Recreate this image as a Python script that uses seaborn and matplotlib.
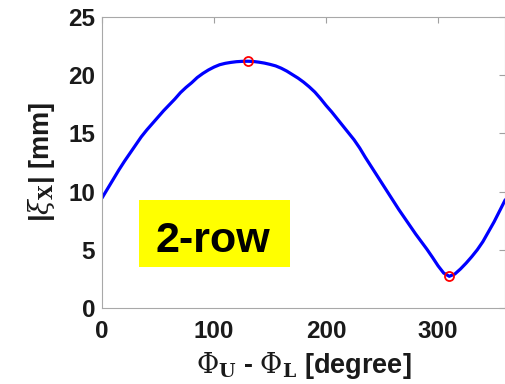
import numpy as np
import pandas as pd
import matplotlib
matplotlib.use("Agg")
import matplotlib.pyplot as plt
from matplotlib.patches import Rectangle
import seaborn as sns

phase_deg = list(range(0, 361, 5))
xi_mm = [9.45, 10.25, 11.05, 11.85, 12.6, 13.3, 14.0, 14.7, 15.3, 15.85,
         16.4, 16.95, 17.45, 17.95, 18.5, 18.95, 19.35, 19.8, 20.15, 20.45,
         20.7, 20.9, 21.02, 21.1, 21.16, 21.19, 21.2, 21.18, 21.12, 21.04,
         20.93, 20.8, 20.6, 20.35, 20.05, 19.75, 19.4, 19.0, 18.55, 18.0,
         17.4, 16.85, 16.25, 15.65, 15.05, 14.45, 13.75, 12.95, 12.2, 11.45,
         10.7, 9.95, 9.2, 8.45, 7.75, 7.05, 6.35, 5.7, 5.05, 4.35,
         3.62, 3.0, 2.72, 2.92, 3.35, 3.85, 4.4, 5.0, 5.7, 6.55,
         7.4, 8.35, 9.3]
x_ticks = [0, 100, 200, 300]
y_ticks = [0, 5, 10, 15, 20, 25]
label_text = "2-row"

df = pd.DataFrame({"phase": phase_deg, "xi": xi_mm})
i_max = int(np.argmax(xi_mm))
i_min = int(np.argmin(xi_mm))
ext = pd.DataFrame({"phase": [phase_deg[i_max], phase_deg[i_min]],
                    "xi": [xi_mm[i_max], xi_mm[i_min]]})

sns.set_theme(style="white")
plt.rcParams['font.family'] = ['Liberation Sans', 'DejaVu Sans']
plt.rcParams['mathtext.fontset'] = 'dejavuserif'

fig = plt.figure(figsize=(5.06, 3.84), dpi=100)
ax = fig.add_axes([0.2016, 0.198, 0.797, 0.7577])

sns.lineplot(data=df, x="phase", y="xi", ax=ax, color=(0, 0, 1), linewidth=2.3)
ax.plot(ext["phase"], ext["xi"], linestyle="none", marker="o", markersize=6.5,
        markerfacecolor="none", markeredgecolor="red", markeredgewidth=1.3)

ax.set_xlim(0, 360)
ax.set_ylim(0, 25)
ax.set_xticks(x_ticks)
ax.set_yticks(y_ticks)
ax.tick_params(direction="in", length=4, width=0.8, color="#a0a0a0",
               top=True, right=True, labelsize=17.5, labelcolor="#1a1a1a")
ax.tick_params(axis="x", pad=9)
ax.tick_params(axis="y", pad=5)
for lab in ax.get_xticklabels() + ax.get_yticklabels():
    lab.set_fontweight("bold")
for s in ax.spines.values():
    s.set_color("#a8a8a8")
    s.set_linewidth(0.8)

ax.set_xlabel(r"$\Phi_{\mathsf{\mathbf{U}}}$ - $\Phi_{\mathsf{\mathbf{L}}}$ [degree]",
              fontsize=19.5, fontweight="bold", color="#1a1a1a", labelpad=5)
ax.set_ylabel(r"|$\xi_{\mathsf{\mathbf{X}}}$| [mm]", fontsize=19.5, fontweight="bold",
              color="#1a1a1a", labelpad=8)

ax.add_patch(Rectangle((33, 3.52), 134.6, 5.76, facecolor=(1, 1, 0),
                       edgecolor="none", zorder=3))
ax.text(99.3, 4.84, label_text, ha="center", va="baseline", fontsize=31,
        fontweight="bold", color="black", zorder=4)

fig.savefig("out.png", dpi=100)
